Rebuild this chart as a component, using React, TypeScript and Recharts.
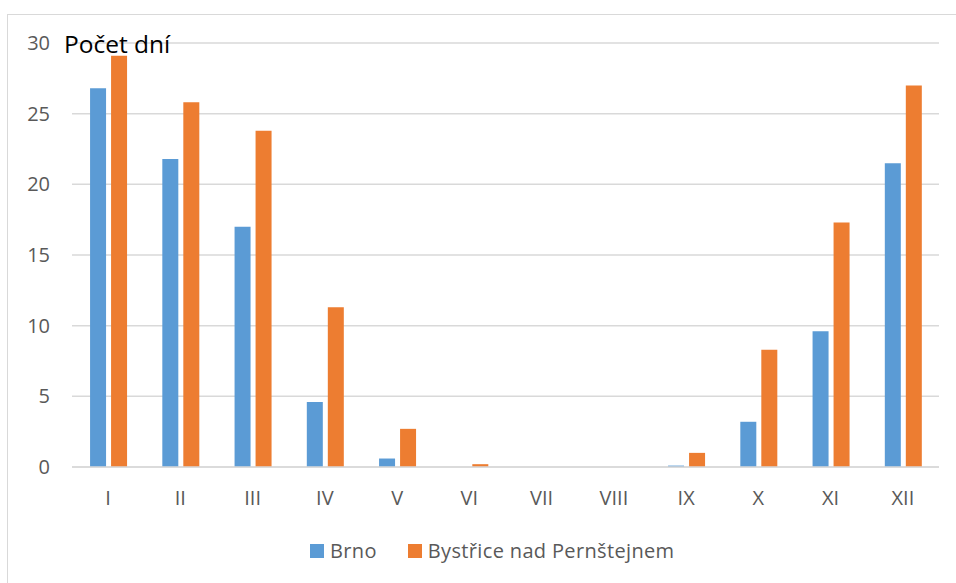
import { Bar, BarChart, CartesianGrid, Legend, XAxis, YAxis } from "recharts";

const MONTHS = ["I", "II", "III", "IV", "V", "VI", "VII", "VIII", "IX", "X", "XI", "XII"];
const BRNO = [26.8, 21.8, 17.0, 4.6, 0.6, 0, 0, 0, 0.1, 3.2, 9.6, 21.5];
const BYSTRICE = [29.1, 25.8, 23.8, 11.3, 2.7, 0.2, 0, 0, 1.0, 8.3, 17.3, 27.0];
const Y_TICKS = [0, 5, 10, 15, 20, 25, 30];

const SERIES = [
  { key: "brno", name: "Brno", color: "#5B9BD5" },
  { key: "bystrice", name: "Bystřice nad Pernštejnem", color: "#ED7D31" },
];

const FONT = "'Open Sans', 'Segoe UI', sans-serif";
const TEXT = "#595959";

const data = MONTHS.map((m, i) => ({ month: m, brno: BRNO[i], bystrice: BYSTRICE[i] }));

const renderLegend = () => (
  <div
    style={{
      display: "flex",
      alignItems: "center",
      paddingLeft: 310,
      fontFamily: FONT,
      fontSize: 20,
      color: TEXT,
      lineHeight: "28px",
      letterSpacing: 0.35,
    }}
  >
    {SERIES.map((s) => (
      <div key={s.key} style={{ display: "flex", alignItems: "center", marginRight: 31 }}>
        <span style={{ width: 14, height: 14, background: s.color, marginRight: 6 }} />
        <span>{s.name}</span>
      </div>
    ))}
  </div>
);

export default function App() {
  return (
    <div style={{ position: "fixed", left: 0, top: 0, width: 956, height: 583, background: "#fff" }}>
      <div
        style={{
          position: "absolute",
          left: 7,
          top: 14,
          width: 970,
          height: 600,
          border: "1px solid #d9d9d9",
        }}
      />
      <BarChart
        width={956}
        height={583}
        data={data}
        margin={{ top: 43, right: 17, bottom: 58, left: 10 }}
        barCategoryGap="25%"
        barGap={5}
        style={{ position: "absolute", left: 0, top: 0 }}
      >
        <CartesianGrid vertical={false} stroke="#d9d9d9" strokeWidth={1.5} />
        <XAxis
          dataKey="month"
          axisLine={{ stroke: "#d9d9d9", strokeWidth: 1.5 }}
          tickLine={false}
          tickMargin={18}
          tick={{ fill: TEXT, fontSize: 20, fontFamily: FONT }}
          interval={0}
        />
        <YAxis
          width={62}
          domain={[0, 30]}
          ticks={Y_TICKS}
          axisLine={false}
          tickLine={false}
          tickMargin={16}
          tick={{ fill: TEXT, fontSize: 20, fontFamily: FONT }}
          label={{
            content: () => (
              <text x={64} y={53} fill="#000" fontSize={24.5} fontFamily={FONT}>
                Počet dní
              </text>
            ),
          }}
        />
        <Legend
          content={renderLegend}
          wrapperStyle={{ left: 0, top: 537, width: 956 }}
        />
        {SERIES.map((s) => (
          <Bar
            key={s.key}
            dataKey={s.key}
            name={s.name}
            fill={s.color}
            isAnimationActive={false}
          />
        ))}
      </BarChart>
    </div>
  );
}
